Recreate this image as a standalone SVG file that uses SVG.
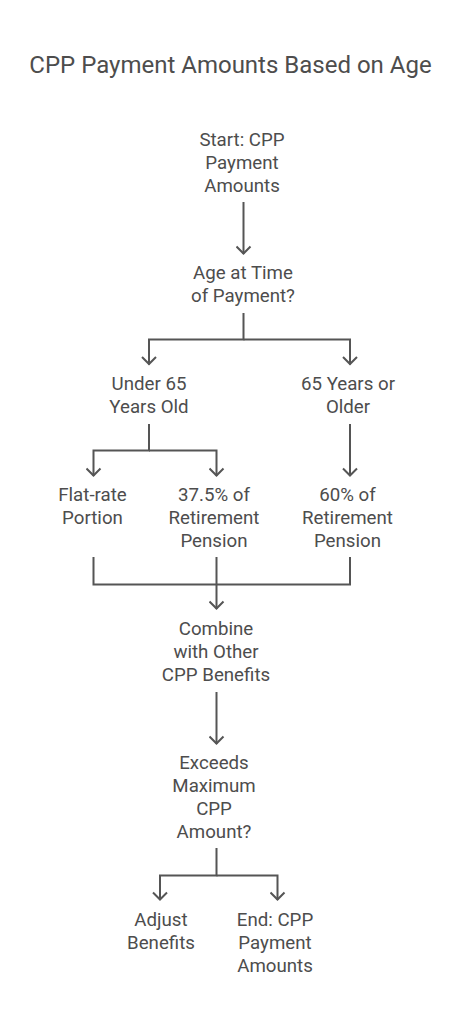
<svg xmlns="http://www.w3.org/2000/svg" width="461" height="1024" viewBox="0 0 461 1024">
<style>
text{font-family:Roboto,"Liberation Sans",sans-serif;fill:#4d4d4d;text-anchor:middle}
.t{font-size:24px}
.n{font-size:18.7px}
.c path{fill:none;stroke:#555;stroke-width:2;stroke-linejoin:miter}
</style>
<defs>
<marker id="a" viewBox="0 0 10 16" refX="9" refY="8" markerWidth="10" markerHeight="16" markerUnits="userSpaceOnUse" orient="auto">
<path d="M1.5 1 L8.5 8 L1.5 15" fill="none" stroke="#555" stroke-width="2"/>
</marker>
</defs>
<rect width="461" height="1024" fill="#fff"/>
<text class="t" x="230.5" y="73">CPP Payment Amounts Based on Age</text>
<g class="c" id="connectors">
<path d="M243.5 202 V254" marker-end="url(#a)"/>
<path d="M243.5 313 V339.5 H149 V364.5" marker-end="url(#a)"/>
<path d="M243.5 339.5 H350 V364.5" marker-end="url(#a)"/>
<path d="M149 424 V450.5 H93.5 V476" marker-end="url(#a)"/>
<path d="M149 450.5 H216.5 V476" marker-end="url(#a)"/>
<path d="M350 424 V476" marker-end="url(#a)"/>
<path d="M93.5 557 V584.5 H350 V557"/>
<path d="M216.5 557 V609" marker-end="url(#a)"/>
<path d="M216.5 692 V744" marker-end="url(#a)"/>
<path d="M216.5 848 V875.5 H160 V900" marker-end="url(#a)"/>
<path d="M216.5 875.5 H277.5 V900" marker-end="url(#a)"/>
</g>
<g id="start" class="n"><text x="242" y="146">Start: CPP</text><text x="242" y="168.8">Payment</text><text x="242" y="191.6">Amounts</text></g>
<g id="age" class="n"><text x="243" y="279.3">Age at Time</text><text x="243" y="302">of Payment?</text></g>
<g id="under65" class="n"><text x="149" y="390">Under 65</text><text x="149" y="413">Years Old</text></g>
<g id="over65" class="n"><text x="348" y="390">65 Years or</text><text x="348" y="413">Older</text></g>
<g id="flatrate" class="n"><text x="92.5" y="501">Flat-rate</text><text x="92.5" y="523.8">Portion</text></g>
<g id="pct375" class="n"><text x="214" y="501">37.5% of</text><text x="214" y="523.8">Retirement</text><text x="214" y="546.6">Pension</text></g>
<g id="pct60" class="n"><text x="347.5" y="501">60% of</text><text x="347.5" y="523.8">Retirement</text><text x="347.5" y="546.6">Pension</text></g>
<g id="combine" class="n"><text x="216" y="635">Combine</text><text x="216" y="657.8">with Other</text><text x="216" y="680.6">CPP Benefits</text></g>
<g id="exceeds" class="n"><text x="214" y="769.3">Exceeds</text><text x="214" y="792.1">Maximum</text><text x="214" y="814.9">CPP</text><text x="214" y="837.7">Amount?</text></g>
<g id="adjust" class="n"><text x="161" y="926">Adjust</text><text x="161" y="948.8">Benefits</text></g>
<g id="end" class="n"><text x="275" y="926">End: CPP</text><text x="275" y="948.8">Payment</text><text x="275" y="971.6">Amounts</text></g>
</svg>
